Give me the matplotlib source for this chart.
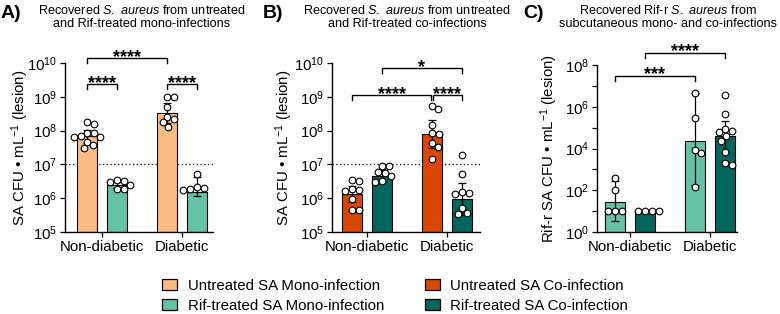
import numpy as np
import matplotlib
matplotlib.use('Agg')
import matplotlib.pyplot as plt
from matplotlib.patches import Patch

plt.rcParams['font.family'] = ['Liberation Sans', 'DejaVu Sans']
plt.rcParams['mathtext.fontset'] = 'custom'
plt.rcParams['mathtext.rm'] = 'Liberation Sans'
plt.rcParams['mathtext.it'] = 'Liberation Sans:italic'
plt.rcParams['mathtext.bf'] = 'Liberation Sans:bold'

# ── data (log10 CFU/mL) ───────────────────────────────────────────
groups = ['Non-diabetic', 'Diabetic']

# panel A: ND untreated mono, ND Rif mono, D untreated mono, D Rif mono
a_means = [7.84, 6.39, 8.53, 6.19]
a_hi = [8.02, 6.48, 8.81, 6.62]
a_lo = [7.62, 6.30, 8.23, 6.06]
a_points = [
    [8.26, 8.19, 7.94, 7.92, 7.84, 7.82, 7.80, 7.67, 7.57, 7.48],
    [6.54, 6.51, 6.49, 6.39, 6.26, 6.26],
    [9.00, 9.00, 8.71, 8.40, 8.34, 8.24, 8.12],
    [6.71, 6.34, 6.30, 6.27, 6.25],
]

# panel B: ND untreated co, ND Rif co, D untreated co, D Rif co
b_means = [6.12, 6.66, 7.89, 5.97]
b_hi = [6.37, 6.86, 8.31, 6.46]
b_lo = [5.90, 6.51, 7.48, 5.50]
b_points = [
    [6.54, 6.52, 6.26, 6.24, 6.22, 5.97, 5.65, 5.65],
    [6.95, 6.95, 6.78, 6.76, 6.66, 6.50, 6.48],
    [8.73, 8.64, 8.17, 7.94, 7.89, 7.62, 7.51, 7.15],
    [7.28, 6.71, 6.19, 6.16, 6.13, 5.70, 5.55, 5.53],
]

# panel C: Rif-r SA; ND mono, ND co, D mono, D co
c_means = [1.46, 1.00, 4.36, 4.60]
c_hi = [2.42, 1.00, 6.65, 5.32]
c_lo = [0.55, 1.00, 2.26, 3.85]
c_points = [
    [2.58, 1.99, 1.00, 1.00, 1.00],
    [1.00, 1.00, 1.00, 1.00],
    [6.65, 5.45, 3.93, 3.80, 2.15],
    [6.55, 5.64, 4.95, 4.84, 4.80, 4.62, 4.38, 3.85, 3.30, 3.20],
]

col_mono_ut = '#FDBB84'
col_mono_rif = '#66C2A5'
col_co_ut = '#D94801'
col_co_rif = '#01665E'

legend_labels = ['Untreated SA Mono-infection', 'Rif-treated SA Mono-infection',
                 'Untreated SA Co-infection', 'Rif-treated SA Co-infection']

W, H = 780, 314
fig = plt.figure(figsize=(W / 100, H / 100), dpi=100)

bar_x = [-0.1875, 0.1875, 0.8125, 1.1875]
bar_w = 0.25


def swarm_offsets(ax, xc, vals, d=7.0):
    """beeswarm: place circles side by side (pixel space) so they don't overlap"""
    tr = ax.transData
    ys = [tr.transform((xc, 10 ** v))[1] for v in vals]
    placed = []
    offs = np.zeros(len(ys))
    for i in range(len(ys)):
        y = ys[i]
        cands = [0.0]
        for px, py in placed:
            dy = y - py
            if abs(dy) < d:
                dx = np.sqrt(d * d - dy * dy)
                cands += [px + dx, px - dx]
        cands.sort(key=abs)
        for c in cands:
            if all((c - px) ** 2 + (y - py) ** 2 >= d * d - 1e-6 for px, py in placed):
                offs[i] = c
                break
        placed.append((offs[i], y))
    x0 = tr.transform((xc, 1.0))[0]
    inv = tr.inverted()
    return [inv.transform((x0 + o, y))[0] for o, y in zip(offs, ys)]


def bracket(ax, x1, x2, ylog, text, tick_px=5):
    tr = ax.transData
    inv = tr.inverted()
    yd = tr.transform((0, 10 ** ylog))[1]
    y = 10 ** ylog
    ylow = inv.transform((0, yd - tick_px))[1]
    ax.plot([x1, x1, x2, x2], [ylow, y, y, ylow], color='k', lw=1.0,
            clip_on=False, zorder=5, solid_joinstyle='miter')
    ytxt = inv.transform((0, yd - 3.5))[1]
    ax.text((x1 + x2) / 2, ytxt, text, ha='center', va='baseline',
            fontsize=13, fontweight='bold', clip_on=False)


def panel(left_px, width_px, top_px, bottom_px, xlim, ylog_range,
          means, his, los, points, colors, ylabel, ylabel_x, title, title_x,
          letter, letter_x, tick_step=1, label_step=1, lod=None):
    ax = fig.add_axes([left_px / W, 1 - bottom_px / H, width_px / W,
                       (bottom_px - top_px) / H])
    ax.set_yscale('log')
    ax.set_xlim(*xlim)
    ax.set_ylim(10 ** ylog_range[0], 10 ** ylog_range[1])
    base = 10 ** ylog_range[0]

    mv = [10 ** m for m in means]
    ax.bar(bar_x, [m - base for m in mv], bar_w, bottom=base, color=colors,
           edgecolor='k', linewidth=0.8, zorder=2)
    err = [[10 ** m - 10 ** lo for m, lo in zip(means, los)],
           [10 ** hi - 10 ** m for m, hi in zip(means, his)]]
    ax.errorbar(bar_x, mv, yerr=err, fmt='none', ecolor='k', elinewidth=0.9,
                capsize=3, capthick=0.9, zorder=3)
    for xc, vals in zip(bar_x, points):
        xs = swarm_offsets(ax, xc, vals)
        ax.plot(xs, [10 ** v for v in vals], 'o', ms=4.8, mfc='white',
                mec='k', mew=0.8, zorder=4, clip_on=False)
    if lod is not None:
        ax.axhline(lod, color='k', lw=0.9, ls=(0, (1, 2)), zorder=1)

    decades = list(range(ylog_range[0], ylog_range[1] + 1, tick_step))
    ax.set_yticks([10 ** k for k in decades])
    ax.set_yticklabels([r'$\mathregular{10^{%d}}$' % k if (k - ylog_range[0]) % label_step == 0 else ''
                        for k in decades])
    ax.yaxis.set_minor_locator(matplotlib.ticker.NullLocator())
    ax.set_xticks([0, 1])
    ax.set_xticklabels(groups)
    ax.tick_params(axis='both', labelsize=10.8, length=3.5, width=0.9, pad=2)
    ax.spines[['top', 'right']].set_visible(False)
    ax.spines[['left', 'bottom']].set_linewidth(1.0)

    fig.text(ylabel_x / W, 1 - (top_px + bottom_px) / 2 / H, ylabel,
             rotation=90, ha='center', va='center', fontsize=10.8)
    fig.text(title_x / W, 1 - 17 / H, title, ha='center', va='center',
             fontsize=9.1, linespacing=1.15)
    fig.text(letter_x / W, 1 - 13 / H, letter, ha='left', va='center',
             fontsize=14, fontweight='bold')
    return ax


ax_a = panel(65, 148, 63, 232, (-0.4625, 1.3875), (5, 10),
             a_means, a_hi, a_lo, a_points,
             [col_mono_ut, col_mono_rif, col_mono_ut, col_mono_rif],
             r'SA CFU • mL$^{\mathregular{-1}}$ (lesion)', 20,
             'Recovered $\\it{S.\\ aureus}$ from untreated\nand Rif-treated mono-infections',
             142, 'A)', 1, lod=1e7)
bracket(ax_a, bar_x[0], bar_x[2], 10.14, '****')
bracket(ax_a, bar_x[0], bar_x[1], 9.37, '****')
bracket(ax_a, bar_x[2], bar_x[3], 9.37, '****')

ax_b = panel(332, 148, 63, 232, (-0.4375, 1.4125), (5, 10),
             b_means, b_hi, b_lo, b_points,
             [col_co_ut, col_co_rif, col_co_ut, col_co_rif],
             r'SA CFU • mL$^{\mathregular{-1}}$ (lesion)', 284,
             'Recovered $\\it{S.\\ aureus}$ from untreated\nand Rif-treated co-infections',
             407, 'B)', 263, lod=1e7)
bracket(ax_b, bar_x[0], bar_x[2] - 0.01, 9.05, '****')
bracket(ax_b, bar_x[2] + 0.01, bar_x[3], 9.05, '****')
bracket(ax_b, bar_x[1], bar_x[3], 9.84, '*')

ax_c = panel(597, 140, 65, 232, (-0.4125, 1.3375), (0, 8),
             c_means, c_hi, c_lo, c_points,
             [col_mono_rif, col_co_rif, col_mono_rif, col_co_rif],
             r'Rif-r SA CFU • mL$^{\mathregular{-1}}$ (lesion)', 549,
             'Recovered Rif-r $\\it{S.\\ aureus}$ from\nsubcutaneous mono- and co-infections',
             668, 'C)', 523, tick_step=1, label_step=2)
bracket(ax_c, bar_x[0], bar_x[2], 7.47, '***')
bracket(ax_c, bar_x[1], bar_x[3], 8.59, '****')

handles = [Patch(facecolor=c, edgecolor='k', linewidth=0.9)
           for c in [col_mono_ut, col_mono_rif, col_co_ut, col_co_rif]]
fig.legend(handles, legend_labels, ncol=2, loc='center',
           bbox_to_anchor=(395 / W, 1 - 295.5 / H), frameon=False,
           fontsize=10.8, handlelength=1.0, handleheight=0.7,
           handletextpad=0.7, columnspacing=2.7, labelspacing=0.4)

fig.savefig('out.png', dpi=100, facecolor='white')
